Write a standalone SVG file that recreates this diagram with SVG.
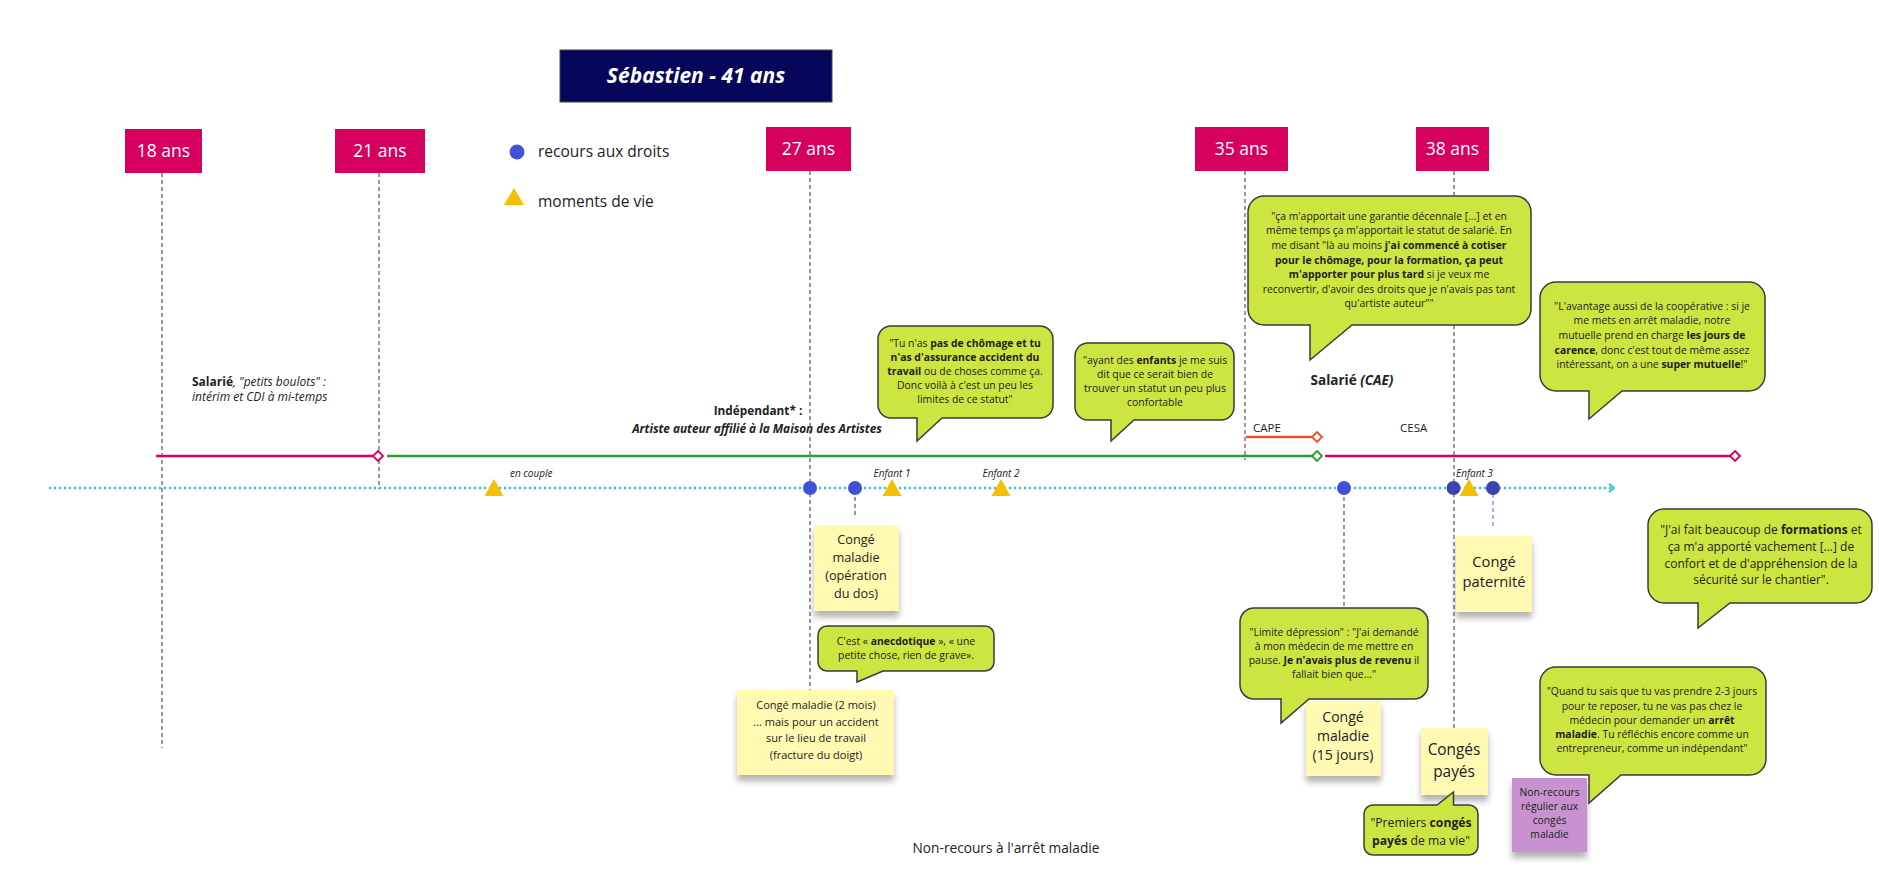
<svg xmlns="http://www.w3.org/2000/svg" width="1879" height="888" viewBox="0 0 1879 888">
<style>
text{font-family:"Open Sans","Liberation Sans",sans-serif;fill:#222}
.age{fill:#d6005f}
.agt{fill:#fff;font-size:17.5px;text-anchor:middle}
.vd{stroke:#555;stroke-width:1.2;stroke-dasharray:4 3;fill:none}
.bub{fill:#cde540;stroke:#3a3a3a;stroke-width:1.5}
.bt{font-size:10.4px;text-anchor:middle}
.b{font-weight:bold}
.i{font-style:italic}
.st{fill:#fff9b1;filter:url(#sh)}
.sp{fill:#c792cf;filter:url(#sh)}
.stt{text-anchor:middle}
.tri{fill:#f5c000}
.dot{fill:#3e51d8}
.dot2{fill:#3c45ae}
.lbl{font-size:10px;font-style:italic}
</style>
<defs>
<filter id="sh" x="-20%" y="-20%" width="140%" height="150%">
<feDropShadow dx="0" dy="6" stdDeviation="3" flood-color="#000" flood-opacity="0.3"/>
</filter>
<marker id="arr" markerWidth="10" markerHeight="10" refX="6" refY="5" orient="auto" markerUnits="userSpaceOnUse">
<path d="M1,1 L6,5 L1,9" fill="none" stroke="#1fc8d6" stroke-width="2"/>
</marker>
</defs>
<rect width="1879" height="888" fill="#fff"/>

<g id="title">
<rect x="560" y="50" width="272" height="52" fill="#06065a" stroke="#444" stroke-width="1"/>
<text x="696" y="83" font-size="21" font-weight="bold" font-style="italic" text-anchor="middle" style="fill:#fff">Sébastien - 41 ans</text>
</g>

<g id="legend">
<circle cx="517" cy="152" r="7.5" fill="#4053d6"/>
<text x="538" y="157" font-size="15.5">recours aux droits</text>
<polygon points="514,188 504,205 524,205" class="tri"/>
<text x="538" y="207" font-size="15.5">moments de vie</text>
</g>

<g id="connectors">
<line class="vd" x1="162" y1="173" x2="162" y2="748"/>
<line class="vd" x1="379" y1="173" x2="379" y2="489"/>
<line class="vd" x1="810" y1="171" x2="810" y2="690"/>
<line class="vd" x1="1245" y1="171" x2="1245" y2="460"/>
<line class="vd" x1="1454" y1="171" x2="1454" y2="728"/>
<line class="vd" x1="855" y1="490" x2="855" y2="518"/>
<line class="vd" x1="1344" y1="490" x2="1344" y2="608"/>
<line x1="1493" y1="494" x2="1493" y2="528" stroke="#6d7fe0" stroke-width="1.2" stroke-dasharray="4 3"/>
<line x1="156" y1="456" x2="374" y2="456" stroke="#d6005f" stroke-width="2.5"/>
<polygon points="378,451 383,456 378,461 373,456" fill="#fff" stroke="#d6005f" stroke-width="1.8"/>
<line x1="387" y1="456" x2="1313" y2="456" stroke="#2a9d2a" stroke-width="2.5"/>
<polygon points="1317,451 1322,456 1317,461 1312,456" fill="#fff" stroke="#2a9d2a" stroke-width="1.8"/>
<line x1="1325" y1="456" x2="1731" y2="456" stroke="#d6005f" stroke-width="2.5"/>
<polygon points="1735,451 1740,456 1735,461 1730,456" fill="#fff" stroke="#d6005f" stroke-width="1.8"/>
<line x1="1246" y1="437" x2="1313" y2="437" stroke="#f0502d" stroke-width="2.5"/>
<polygon points="1317,432 1322,437 1317,442 1312,437" fill="#fff" stroke="#f0502d" stroke-width="1.8"/>
<line x1="49" y1="488" x2="1614" y2="488" stroke="#1fc8d6" stroke-width="2.5" stroke-dasharray="2 3" marker-end="url(#arr)"/>
</g>

<g id="age-18"><rect class="age" x="125" y="129" width="77" height="44"/><text class="agt" x="163.5" y="157">18 ans</text></g>
<g id="age-21"><rect class="age" x="335" y="129" width="90" height="44"/><text class="agt" x="380" y="157">21 ans</text></g>
<g id="age-27"><rect class="age" x="766" y="127" width="85" height="44"/><text class="agt" x="808.5" y="155">27 ans</text></g>
<g id="age-35"><rect class="age" x="1195" y="127" width="93" height="44"/><text class="agt" x="1241.5" y="155">35 ans</text></g>
<g id="age-38"><rect class="age" x="1416" y="127" width="73" height="44"/><text class="agt" x="1452.5" y="155">38 ans</text></g>

<g id="period-labels">
<text x="192" y="386" font-size="12"><tspan class="b">Salarié</tspan><tspan class="i">, "petits boulots" :</tspan></text>
<text x="192" y="401" font-size="12" class="i">intérim et CDI à mi-temps</text>
<text x="758" y="415" font-size="11.8" class="b" text-anchor="middle">Indépendant* :</text>
<text x="757" y="433" font-size="11.8" class="b i" text-anchor="middle">Artiste auteur affilié à la Maison des Artistes</text>
<text x="1352" y="385" font-size="13.5" class="b" text-anchor="middle">Salarié <tspan class="i">(CAE)</tspan></text>
<text x="1253" y="432" font-size="11.5">CAPE</text>
<text x="1400" y="432" font-size="11.5">CESA</text>
</g>

<g id="events">
<polygon class="tri" points="494,479 484.5,496 503.5,496"/>
<text class="lbl" x="510" y="477">en couple</text>
<circle class="dot" cx="810" cy="488" r="7"/>
<circle class="dot" cx="855" cy="488" r="7"/>
<polygon class="tri" points="892,479 882.5,496 901.5,496"/>
<text class="lbl" x="892" y="477" text-anchor="middle">Enfant 1</text>
<polygon class="tri" points="1001,479 991.5,496 1010.5,496"/>
<text class="lbl" x="1001" y="477" text-anchor="middle">Enfant 2</text>
<circle class="dot" cx="1344" cy="488" r="7"/>
<circle class="dot2" cx="1453.5" cy="488" r="7"/>
<polygon class="tri" points="1469,479 1459.5,496 1478.5,496"/>
<text class="lbl" x="1456" y="477">Enfant 3</text>
<circle class="dot2" cx="1493" cy="488" r="7"/>
</g>

<g id="sticky-operation">
<rect class="st" x="814" y="525" width="85" height="86"/>
<text class="stt" font-size="12.7"><tspan x="856" y="543.5">Congé</tspan><tspan x="856" y="561.5">maladie</tspan><tspan x="856" y="579.5">(opération</tspan><tspan x="856" y="597.5">du dos)</tspan></text>
</g>
<g id="sticky-2mois">
<rect class="st" x="737" y="690" width="157" height="85"/>
<text class="stt" font-size="11"><tspan x="816" y="709">Congé maladie (2 mois)</tspan><tspan x="816" y="725.5">... mais pour un accident</tspan><tspan x="816" y="742">sur le lieu de travail</tspan><tspan x="816" y="758.5">(fracture du doigt)</tspan></text>
</g>
<g id="sticky-paternite">
<rect class="st" x="1456" y="536" width="76" height="76"/>
<text class="stt" font-size="14.7"><tspan x="1494" y="567">Congé</tspan><tspan x="1494" y="587">paternité</tspan></text>
</g>
<g id="sticky-15jours">
<rect class="st" x="1306" y="701" width="75" height="75"/>
<text class="stt" font-size="14"><tspan x="1343" y="722">Congé</tspan><tspan x="1343" y="741">maladie</tspan><tspan x="1343" y="760">(15 jours)</tspan></text>
</g>
<g id="sticky-conges-payes">
<rect class="st" x="1421" y="728" width="67" height="67"/>
<text class="stt" font-size="15.4"><tspan x="1454" y="754.5">Congés</tspan><tspan x="1454" y="776.5">payés</tspan></text>
</g>
<g id="sticky-non-recours">
<rect class="sp" x="1512" y="778" width="75" height="74"/>
<text class="stt" font-size="10.3"><tspan x="1549.5" y="795.7">Non-recours</tspan><tspan x="1549.5" y="810">régulier aux</tspan><tspan x="1549.5" y="824">congés</tspan><tspan x="1549.5" y="838">maladie</tspan></text>
</g>

<g id="bubble-cae">
<path class="bub" d="M1264,196 H1515 A16,16 0 0 1 1531,212 V309 A16,16 0 0 1 1515,325 H1352 L1310,360 V325 H1264 A16,16 0 0 1 1248,309 V212 A16,16 0 0 1 1264,196 Z"/>
<text class="bt" x="1389" y="219.7">"ça m'apportait une garantie décennale [...] et en</text>
<text class="bt" x="1389" y="234.3">même temps ça m'apportait le statut de salarié. En</text>
<text class="bt" x="1389" y="248.9">me disant "là au moins <tspan class="b">j'ai commencé à cotiser</tspan></text>
<text class="bt b" x="1389" y="263.5">pour le chômage, pour la formation, ça peut</text>
<text class="bt" x="1389" y="278.1"><tspan class="b">m'apporter pour plus tard</tspan> si je veux me</text>
<text class="bt" x="1389" y="292.7">reconvertir, d'avoir des droits que je n'avais pas tant</text>
<text class="bt" x="1389" y="307.3">qu'artiste auteur""</text>
</g>

<g id="bubble-cooperative">
<path class="bub" d="M1556,282 H1749 A16,16 0 0 1 1765,298 V375 A16,16 0 0 1 1749,391 H1622 L1589,419 V391 H1556 A16,16 0 0 1 1540,375 V298 A16,16 0 0 1 1556,282 Z"/>
<text class="bt" x="1652" y="309.7">"L'avantage aussi de la coopérative : si je</text>
<text class="bt" x="1652" y="324.4">me mets en arrêt maladie, notre</text>
<text class="bt" x="1652" y="339">mutuelle prend en charge <tspan class="b">les jours de</tspan></text>
<text class="bt" x="1652" y="353.7"><tspan class="b">carence</tspan>, donc c'est tout de même assez</text>
<text class="bt" x="1652" y="368.4">intéressant, on a une <tspan class="b">super mutuelle</tspan>!"</text>
</g>

<g id="bubble-chomage">
<path class="bub" d="M891,326 H1040 A13,13 0 0 1 1053,339 V405 A13,13 0 0 1 1040,418 H942 L917,441 V418 H891 A13,13 0 0 1 878,405 V339 A13,13 0 0 1 891,326 Z"/>
<text class="bt" x="965" y="347">"Tu n'as <tspan class="b">pas de chômage et tu</tspan></text>
<text class="bt b" x="965" y="361">n'as d'assurance accident du</text>
<text class="bt" x="965" y="375.2"><tspan class="b">travail</tspan> ou de choses comme ça.</text>
<text class="bt" x="965" y="389">Donc voilà à c'est un peu les</text>
<text class="bt" x="965" y="403">limites de ce statut"</text>
</g>

<g id="bubble-enfants">
<path class="bub" d="M1088,343 H1221 A13,13 0 0 1 1234,356 V407 A13,13 0 0 1 1221,420 H1134 L1111,441 V420 H1088 A13,13 0 0 1 1075,407 V356 A13,13 0 0 1 1088,343 Z"/>
<text class="bt" x="1155" y="363.7">"ayant des <tspan class="b">enfants</tspan> je me suis</text>
<text class="bt" x="1155" y="377.7">dit que ce serait bien de</text>
<text class="bt" x="1155" y="391.7">trouver un statut un peu plus</text>
<text class="bt" x="1155" y="405.7">confortable</text>
</g>

<g id="bubble-anecdotique">
<path class="bub" d="M827,626 H985 A9,9 0 0 1 994,635 V662 A9,9 0 0 1 985,671 H883 L857,682 V671 H827 A9,9 0 0 1 818,662 V635 A9,9 0 0 1 827,626 Z"/>
<text class="bt" x="906" y="644.7">C'est « <tspan class="b">anecdotique</tspan> », « une</text>
<text class="bt" x="906" y="658.7">petite chose, rien de grave».</text>
</g>

<g id="bubble-depression">
<path class="bub" d="M1254,608 H1414 A14,14 0 0 1 1428,622 V685 A14,14 0 0 1 1414,699 H1309 L1281,723 V699 H1254 A14,14 0 0 1 1240,685 V622 A14,14 0 0 1 1254,608 Z"/>
<text class="bt" x="1334" y="635.7">"Limite dépression" : "J'ai demandé</text>
<text class="bt" x="1334" y="649.7">à mon médecin de me mettre en</text>
<text class="bt" x="1334" y="663.7">pause. <tspan class="b">Je n'avais plus de revenu</tspan> il</text>
<text class="bt" x="1334" y="677.7">fallait bien que..."</text>
</g>

<g id="bubble-formations">
<path class="bub" d="M1664,509 H1856 A16,16 0 0 1 1872,525 V587 A16,16 0 0 1 1856,603 H1730 L1698,628 V603 H1664 A16,16 0 0 1 1648,587 V525 A16,16 0 0 1 1664,509 Z"/>
<text class="bt" style="font-size:12px" x="1761" y="534.2">"J'ai fait beaucoup de <tspan class="b">formations</tspan> et</text>
<text class="bt" style="font-size:12px" x="1761" y="550.9">ça m'a apporté vachement [...] de</text>
<text class="bt" style="font-size:12px" x="1761" y="567.5">confort et de d'appréhension de la</text>
<text class="bt" style="font-size:12px" x="1761" y="584.2">sécurité sur le chantier".</text>
</g>

<g id="bubble-entrepreneur">
<path class="bub" d="M1556,667 H1750 A16,16 0 0 1 1766,683 V759 A16,16 0 0 1 1750,775 H1621 L1589,803 V775 H1556 A16,16 0 0 1 1540,759 V683 A16,16 0 0 1 1556,667 Z"/>
<text class="bt" x="1652" y="695.4">"Quand tu sais que tu vas prendre 2-3 jours</text>
<text class="bt" x="1652" y="709.7">pour te reposer, tu ne vas pas chez le</text>
<text class="bt" x="1652" y="723.7">médecin pour demander un <tspan class="b">arrêt</tspan></text>
<text class="bt" x="1652" y="738"><tspan class="b">maladie</tspan>. Tu réfléchis encore comme un</text>
<text class="bt" x="1652" y="752">entrepreneur, comme un indépendant"</text>
</g>

<g id="bubble-premiers-conges">
<path class="bub" d="M1373,805 H1437 L1453.5,792 V805 H1469 A9,9 0 0 1 1478,814 V846 A9,9 0 0 1 1469,855 H1373 A9,9 0 0 1 1364,846 V814 A9,9 0 0 1 1373,805 Z"/>
<text class="bt" style="font-size:12.2px" x="1421" y="827.4">"Premiers <tspan class="b">congés</tspan></text>
<text class="bt" style="font-size:12.2px" x="1421" y="845.4"><tspan class="b">payés</tspan> de ma vie"</text>
</g>

<g id="footer">
<text x="1006" y="853" font-size="13.7" text-anchor="middle">Non-recours à l'arrêt maladie</text>
</g>
</svg>
